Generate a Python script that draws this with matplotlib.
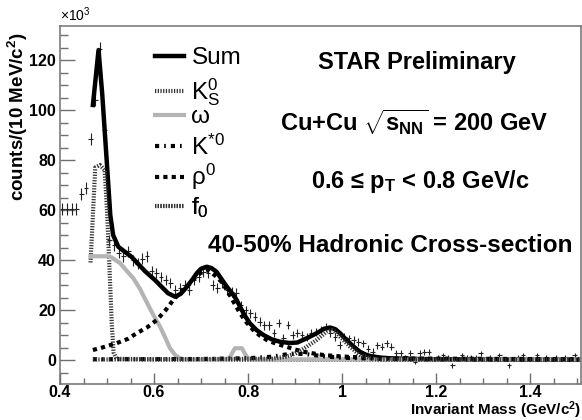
import numpy as np
import matplotlib
matplotlib.use("Agg")
import matplotlib.pyplot as plt
from matplotlib.ticker import MultipleLocator, FuncFormatter

plt.rcParams['font.family'] = ['Liberation Sans', 'DejaVu Sans']
plt.rcParams['mathtext.fontset'] = 'custom'
plt.rcParams['mathtext.rm'] = 'Liberation Sans'
plt.rcParams['mathtext.bf'] = 'Liberation Sans:bold'
plt.rcParams['mathtext.default'] = 'regular'

# data histogram, 10 MeV bins (counts in units of 10^3)
mass_bins = np.round(np.arange(0.405, 1.5, 0.01), 3)
counts = [60.5, 60.5, 60.5, 60.5, 66.5, 69.0, 88.5, 104.0, 124.5, 92.0,
          48.0, 46.0, 43.0, 41.5, 43.5, 40.0, 38.5, 40.5, 41.5, 35.5,
          34.7, 33.3, 32.0, 31.0, 28.0, 28.7, 30.0, 28.0, 32.0, 33.3,
          35.3, 34.7, 30.0, 28.7, 30.7, 28.0, 27.3, 27.0, 22.0, 20.0,
          18.7, 17.3, 15.3, 14.0, 14.0, 11.0, 14.7, 9.0, 14.0, 10.0,
          10.7, 10.0, 9.3, 10.7, 11.3, 12.0, 13.3, 10.7, 9.3, 6.0,
          9.3, 8.7, 8.0, 7.3, 6.7, 4.5, 3.3, 6.0, 5.3, 6.7,
          5.3, 2.7, 2.7, 1.5, 2.7, -0.7, 2.7, 3.3, 3.3, 0.8,
          1.3, 2.0, 1.3, -2.0, 0.6, 2.0, 1.3, 1.3, 1.3, 2.7,
          0.5, 1.3, 0.5, 2.0, 0.4, -2.0, 0.5, 1.3, 2.0, 0.4,
          0.5, 2.0, 0.6, 1.3, 0.5, 1.3, 0.4, 1.3, 0.5, 2.0]
errors = [2.4, 2.4, 2.4, 2.4, 2.4, 2.4, 2.5, 2.5, 2.6, 2.5,
          2.2, 2.2, 2.2, 2.2, 2.2, 2.2, 2.2, 2.2, 2.2, 2.0,
          2.0, 2.0, 2.0, 2.0, 2.0, 2.0, 2.0, 2.0, 2.0, 2.0,
          2.0, 2.0, 2.0, 2.0, 2.0, 2.0, 2.0, 2.0, 1.8, 1.8,
          1.8, 1.8, 1.8, 1.8, 1.8, 1.6, 1.6, 1.6, 1.6, 1.6,
          1.6, 1.6, 1.6, 1.6, 1.6, 1.6, 1.6, 1.6, 1.6, 1.5,
          1.5, 1.5, 1.5, 1.5, 1.5, 1.4, 1.4, 1.4, 1.4, 1.4,
          1.4, 1.2, 1.2, 0.6, 1.2, 0.8, 1.2, 1.2, 1.2, 0.5,
          0.6, 1.0, 0.6, 1.0, 0.4, 1.0, 0.6, 0.6, 0.6, 1.0,
          0.4, 0.6, 0.4, 1.0, 0.3, 1.0, 0.4, 0.6, 1.0, 0.3,
          0.4, 1.0, 0.4, 0.6, 0.4, 0.6, 0.3, 0.6, 0.4, 1.0]

# fit components
sum_m = [0.470, 0.482, 0.490, 0.500, 0.507, 0.513, 0.524, 0.540, 0.552, 0.566,
         0.581, 0.602, 0.615, 0.630, 0.645, 0.657, 0.670, 0.681, 0.691, 0.700,
         0.712, 0.722, 0.733, 0.745, 0.755, 0.769, 0.776, 0.783, 0.793, 0.804,
         0.818, 0.833, 0.850, 0.868, 0.889, 0.905, 0.925, 0.946, 0.962, 0.975,
         0.986, 0.996, 1.006, 1.017, 1.027, 1.038, 1.050, 1.060, 1.080, 1.100,
         1.130, 1.200, 1.300, 1.505]
sum_y = [102, 124, 106, 78, 58, 50, 45.3, 43, 41.3, 38.5,
         35.5, 32, 29.5, 26.7, 25.3, 26.5, 29.3, 32, 34.7, 36.5,
         37.3, 36.8, 35.3, 32, 29.3, 26, 24, 21.3, 17.8, 14.7,
         12, 10, 8.3, 7.3, 6.8, 7.0, 8.7, 10.7, 12.5, 13.0,
         12.3, 10.7, 8.7, 6.7, 5.0, 3.3, 2.2, 1.6, 1.0, 0.7,
         0.5, 0.3, 0.2, 0.1]

k0s_m = [0.465, 0.470, 0.475, 0.485, 0.495, 0.500, 0.505, 0.510, 0.514, 0.520, 0.600, 0.800, 1.505]
k0s_y = [39, 58, 77, 78, 76, 60, 38, 15, 3, 0.5, 0.2, 0.1, 0.0]

omega_m = [0.465, 0.500, 0.510, 0.528, 0.545, 0.556, 0.570, 0.584, 0.600, 0.613,
           0.625, 0.634, 0.645, 0.655, 0.665, 0.755, 0.762, 0.772, 0.787, 0.795,
           0.800, 0.810, 1.505]
omega_y = [41.5, 41.5, 41, 38.7, 35, 32.7, 28.5, 23.3, 17.5, 13.3,
           8.5, 4.7, 2.0, 0.7, 0.2, 0.2, 1.3, 4.7, 4.7, 2.0,
           0.7, 0.2, 0.2]

kstar_m = [0.470, 0.700, 0.800, 0.850, 0.880, 0.900, 0.930, 0.960, 1.000, 1.100, 1.300, 1.505]
kstar_y = [0.3, 0.4, 0.7, 1.3, 2.2, 2.6, 2.2, 1.5, 0.9, 0.4, 0.2, 0.1]

rho_m = [0.470, 0.490, 0.520, 0.545, 0.563, 0.585, 0.606, 0.625, 0.641, 0.655,
         0.670, 0.685, 0.698, 0.716, 0.733, 0.745, 0.755, 0.770, 0.783, 0.797,
         0.811, 0.825, 0.840, 0.860, 0.882, 0.900, 0.918, 0.940, 0.960, 0.985,
         1.010, 1.045, 1.080, 1.120, 1.505]
rho_y = [4, 5, 6.7, 8.5, 10.7, 13, 16, 20, 24, 26.8,
         29.3, 32.5, 34.7, 36, 33.3, 31, 28, 23, 18.7, 15,
         12, 9.8, 8, 6.5, 5.3, 4.2, 3.3, 2.6, 2.0, 1.6,
         1.3, 1.0, 0.8, 0.6, 0.3]

f0_m = [0.470, 0.850, 0.880, 0.900, 0.925, 0.946, 0.967, 0.978, 0.987, 0.996,
        1.017, 1.038, 1.060, 1.080, 1.505]
f0_y = [0.2, 0.5, 1.3, 2.5, 5.3, 8, 11.3, 12, 11.3, 9.3,
        5.3, 2, 0.7, 0.2, 0.1]

frame_col = "#707070"

fig = plt.figure(figsize=(5.82, 4.2), dpi=100)
ax = fig.add_axes([60/582, 36/420, 521/582, 358/420])

# data points
ax.errorbar(mass_bins, counts, yerr=errors, xerr=0.005, fmt='none',
            ecolor='#222222', elinewidth=0.8, capsize=0)

# fit curves
l_sum, = ax.plot(sum_m, sum_y, color='black', lw=3.2, solid_joinstyle='round')
l_k0s, = ax.plot(k0s_m, k0s_y, color='#333333', lw=3.0, linestyle=(0, (0.3, 0.35)))
l_om, = ax.plot(omega_m, omega_y, color='#b4b4b4', lw=3.0)
l_ks, = ax.plot(kstar_m, kstar_y, color='black', lw=3.0, linestyle=(0, (1, 1.2, 0.4, 1.2)))
l_rho, = ax.plot(rho_m, rho_y, color='black', lw=3.0, linestyle=(0, (1, 1)))
l_f0, = ax.plot(f0_m, f0_y, color='#333333', lw=3.0, linestyle=(0, (0.3, 0.35)))

ax.set_xlim(0.4, 1.5085)
ax.set_ylim(-9.6, 133.6)

ax.xaxis.set_major_locator(MultipleLocator(0.2))
ax.xaxis.set_minor_locator(MultipleLocator(0.05))
ax.yaxis.set_major_locator(MultipleLocator(20))
ax.yaxis.set_minor_locator(MultipleLocator(5))
ax.xaxis.set_major_formatter(FuncFormatter(lambda v, p: "%g" % round(v, 2)))
ax.tick_params(which='both', direction='in', color=frame_col, width=1.0,
               top=False, right=False, labelsize=11.5)
ax.tick_params(axis='x', which='major', length=8, pad=1)
ax.tick_params(axis='x', which='minor', length=4)
ax.tick_params(axis='y', which='major', length=11, pad=3)
ax.tick_params(axis='y', which='minor', length=6)
for lab in ax.get_xticklabels() + ax.get_yticklabels():
    lab.set_fontweight('bold')
for sp in ax.spines.values():
    sp.set_color(frame_col)
    sp.set_linewidth(1.1)

ax.set_xlabel("Invariant Mass (GeV/c$^{2}$)", fontsize=11, fontweight='bold', ha='right', va='baseline')
ax.xaxis.set_label_coords(1.0, -0.087)
ax.set_ylabel("counts/(10 MeV/c$^{2}$)", fontsize=13.5, fontweight='bold', va='center')
ax.yaxis.set_label_coords(-0.081, 0.746)

fig.text(60/582, 1 - 15/420, "×10$^{3}$", fontsize=10, ha='left', va='center')

# legend, one row per entry
entries = [(l_sum, "Sum", 0.9106), (l_k0s, "K$^{0}_{S}$", 0.8156), (l_om, "ω", 0.7458),
           (l_ks, "K$^{*0}$", 0.662), (l_rho, "ρ$^{0}$", 0.578), (l_f0, "f$_{0}$", 0.4916)]
for h, lab, yy in entries:
    lg = ax.legend([h], [lab], loc='center left', bbox_to_anchor=(0.1823, yy),
                   frameon=False, fontsize=17.5, handlelength=1.2, handletextpad=0.3,
                   borderpad=0, borderaxespad=0)
    ax.add_artist(lg)

# annotations
ax.text(0.685, 0.899, "STAR Preliminary", transform=ax.transAxes, fontsize=17,
        fontweight='bold', ha='center', va='center')
ax.text(0.680, 0.732, r"Cu+Cu $\sqrt{s_{NN}}$ = 200 GeV", transform=ax.transAxes, fontsize=17,
        fontweight='bold', ha='center', va='center')
ax.text(0.691, 0.566, "0.6 ≤ p$_{T}$ < 0.8 GeV/c", transform=ax.transAxes, fontsize=17,
        fontweight='bold', ha='center', va='center')
ax.text(0.633, 0.388, "40-50% Hadronic Cross-section", transform=ax.transAxes, fontsize=17.5,
        fontweight='bold', ha='center', va='center')

fig.savefig("out.png", dpi=100)
